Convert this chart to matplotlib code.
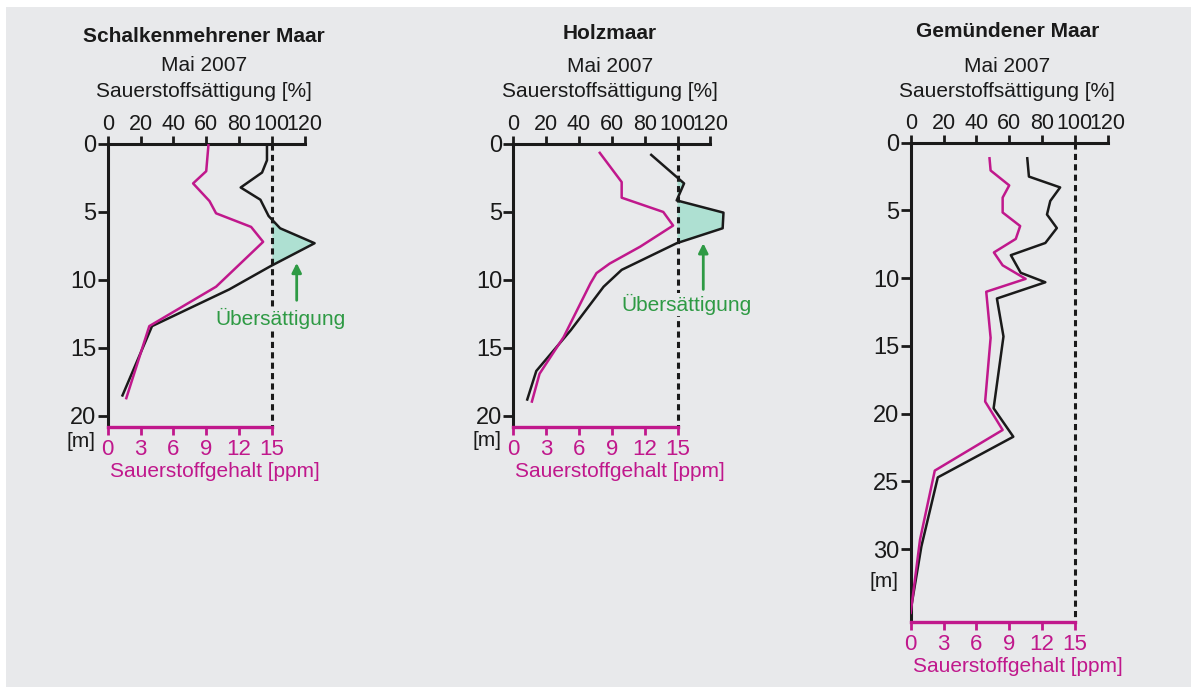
import numpy as np
import matplotlib
matplotlib.use("Agg")
import matplotlib.pyplot as plt
from matplotlib.patches import Rectangle

plt.rcParams['font.family'] = ['Liberation Sans', 'DejaVu Sans']

W, H = 1191, 687
BG = "#e8e9eb"
MAGENTA = "#c0188c"
GREEN = "#2e9a44"
FILL = "#aee0d2"
BLACK = "#1a1a1a"

# --- data ---
names = ["Schalkenmehrener Maar", "Holzmaar", "Gemündener Maar"]
month = "Mai 2007"
sat_ticks = [0, 20, 40, 60, 80, 100, 120]
ppm_ticks = [0, 3, 6, 9, 12, 15]

# Schalkenmehrener Maar
sat1_depth = [0.2, 1.2, 2.1, 3.2, 4.1, 5.3, 6.2, 7.3, 9.0, 10.7, 13.4, 18.5]
sat1 = [97, 97, 94, 81, 93, 98, 105, 126, 99, 74, 27, 9]
ppm1_depth = [0.1, 2.0, 2.9, 4.2, 5.1, 6.1, 7.2, 10.5, 13.4, 18.7]
ppm1 = [9.2, 9.0, 7.8, 9.3, 9.9, 13.1, 14.2, 9.9, 3.8, 1.7]

# Holzmaar
sat2_depth = [0.8, 2.9, 4.15, 5.05, 6.2, 7.3, 9.26, 10.5, 13.7, 16.7, 18.8]
sat2 = [84, 104, 99.5, 128, 127.5, 99.5, 66, 55, 35, 14, 8.5]
ppm2_depth = [0.65, 2.8, 3.95, 5.0, 6.0, 7.55, 8.8, 9.5, 10.25, 14.2, 16.9, 18.95]
ppm2 = [7.9, 9.9, 9.9, 13.7, 14.6, 11.6, 8.8, 7.6, 7.05, 4.6, 2.4, 1.7]

# Gemündener Maar
sat3_depth = [1.15, 2.5, 3.3, 4.3, 5.3, 6.3, 7.4, 8.3, 9.6, 10.3, 11.5, 14.3,
              19.6, 21.7, 24.7, 29.8, 34.5]
sat3 = [71, 72, 91, 85, 83, 89, 82, 61, 67, 82, 52.5, 56.5, 50.5, 62.5, 16.5, 6.5, 0]
ppm3_depth = [1.15, 2.05, 3.15, 4.05, 5.15, 6.15, 7.1, 8.1, 9.05, 10.05, 11.0, 14.4,
              19.1, 21.2, 24.2, 29.3, 34.7]
ppm3 = [7.2, 7.3, 9.0, 8.4, 8.4, 10.0, 9.6, 7.6, 8.4, 10.5, 6.9, 7.3, 6.8, 8.4, 2.2, 0.85, 0]

fig = plt.figure(figsize=(W / 100, H / 100), dpi=100, facecolor="white")
fig.patches.append(Rectangle((6 / W, 0), 1, 1 - 7 / H, transform=fig.transFigure,
                             facecolor=BG, edgecolor="none", zorder=-10))


def px_axes(x0, ytop, ybot, width):
    return fig.add_axes([x0 / W, 1 - ybot / H, width / W, (ybot - ytop) / H])


def panel(x0, ytop, ybot, xmax, dmax, depth_ticks, sat_d, sat, ppm_d, ppm,
          name, title_y, m_depth, arrow=None):
    ax = px_axes(x0, ytop, ybot, xmax * 1.642)
    ax.set_facecolor("none")
    ax.set_xlim(0, xmax)
    ax.set_ylim(dmax, 0)

    # ppm axis at the bottom (15 ppm = 100 %)
    axp = ax.twiny()
    axp.set_xlim(0, xmax * 0.15)

    for s in ["right", "bottom"]:
        ax.spines[s].set_visible(False)
    for s in ["top", "left"]:
        ax.spines[s].set_linewidth(2.2)
        ax.spines[s].set_color(BLACK)
    ax.spines["top"].set_bounds(0, 120)

    ax.xaxis.set_ticks_position("top")
    ax.xaxis.set_label_position("top")
    ax.set_xticks(sat_ticks)
    ax.tick_params(axis="x", direction="out", length=6, width=2, pad=0.5,
                   labelsize=15.5, colors=BLACK)
    ax.set_yticks(depth_ticks)
    ax.tick_params(axis="y", direction="out", length=7, width=2, pad=1,
                   labelsize=17, colors=BLACK)

    # saturation line and 100 % mark
    ax.fill_betweenx(sat_d, 100, sat, where=np.array(sat) > 100, interpolate=True,
                     color=FILL, lw=0, zorder=1)
    ax.plot([100, 100], [0, dmax], color=BLACK, lw=2.2, ls=(0, (2, 1.4)), zorder=2)
    ax.plot(sat, sat_d, color=BLACK, lw=1.8, zorder=3)

    for s in ["top", "left", "right"]:
        axp.spines[s].set_visible(False)
    axp.spines["bottom"].set_visible(True)
    axp.spines["bottom"].set_color(MAGENTA)
    axp.spines["bottom"].set_linewidth(2.4)
    axp.spines["bottom"].set_bounds(0, 15)
    axp.xaxis.set_ticks_position("bottom")
    axp.xaxis.set_label_position("bottom")
    axp.set_xticks(ppm_ticks)
    axp.tick_params(axis="x", direction="out", length=6, width=2, pad=3,
                    labelsize=16, colors=MAGENTA)
    axp.set_xlabel("Sauerstoffgehalt [ppm]", color=MAGENTA, fontsize=15, labelpad=1)
    axp.plot(ppm, ppm_d, color=MAGENTA, lw=1.8, zorder=3)

    ax.text(-16, m_depth, "[m]", fontsize=15, color=BLACK, ha="center", va="center",
            clip_on=False)

    if arrow is not None:
        ax_x, tip, tail, ty = arrow
        ax.annotate("", xy=(ax_x, tip), xytext=(ax_x, tail),
                    arrowprops=dict(arrowstyle="-|>", color=GREEN, lw=2,
                                    mutation_scale=14, shrinkA=0, shrinkB=0),
                    zorder=5)
        ax.text(ax_x - 10, ty, "Übersättigung", color=GREEN, fontsize=15,
                ha="center", va="center", zorder=4,
                bbox=dict(facecolor=BG, edgecolor="none", pad=0.5))

    cx = x0 + 60 * 1.642 - 2
    ty1, ty2, ty3 = title_y
    fig.text(cx / W, 1 - ty1 / H, name, fontsize=15, fontweight="bold",
             ha="center", va="center", color=BLACK)
    fig.text(cx / W, 1 - ty2 / H, month, fontsize=15, ha="center", va="center",
             color=BLACK)
    fig.text(cx / W, 1 - ty3 / H, "Sauerstoffsättigung [%]", fontsize=15,
             ha="center", va="center", color=BLACK)
    return ax


panel(107.7, 144, 426.7, 130, 20.8, [0, 5, 10, 15, 20], sat1_depth, sat1,
      ppm1_depth, ppm1, names[0], (36.7, 65.5, 91.7), 21.9,
      arrow=(115.1, 8.75, 11.5, 12.8))
panel(513.3, 144, 426.7, 130, 20.8, [0, 5, 10, 15, 20], sat2_depth, sat2,
      ppm2_depth, ppm2, names[1], (33.5, 66.5, 91.7), 21.8,
      arrow=(115.7, 7.3, 10.7, 11.8))
panel(910.7, 142.7, 621.7, 130, 35.35, [0, 5, 10, 15, 20, 25, 30], sat3_depth, sat3,
      ppm3_depth, ppm3, names[2], (31.7, 66.7, 91.7), 32.4)

fig.savefig("out.png", dpi=100, facecolor="white")
